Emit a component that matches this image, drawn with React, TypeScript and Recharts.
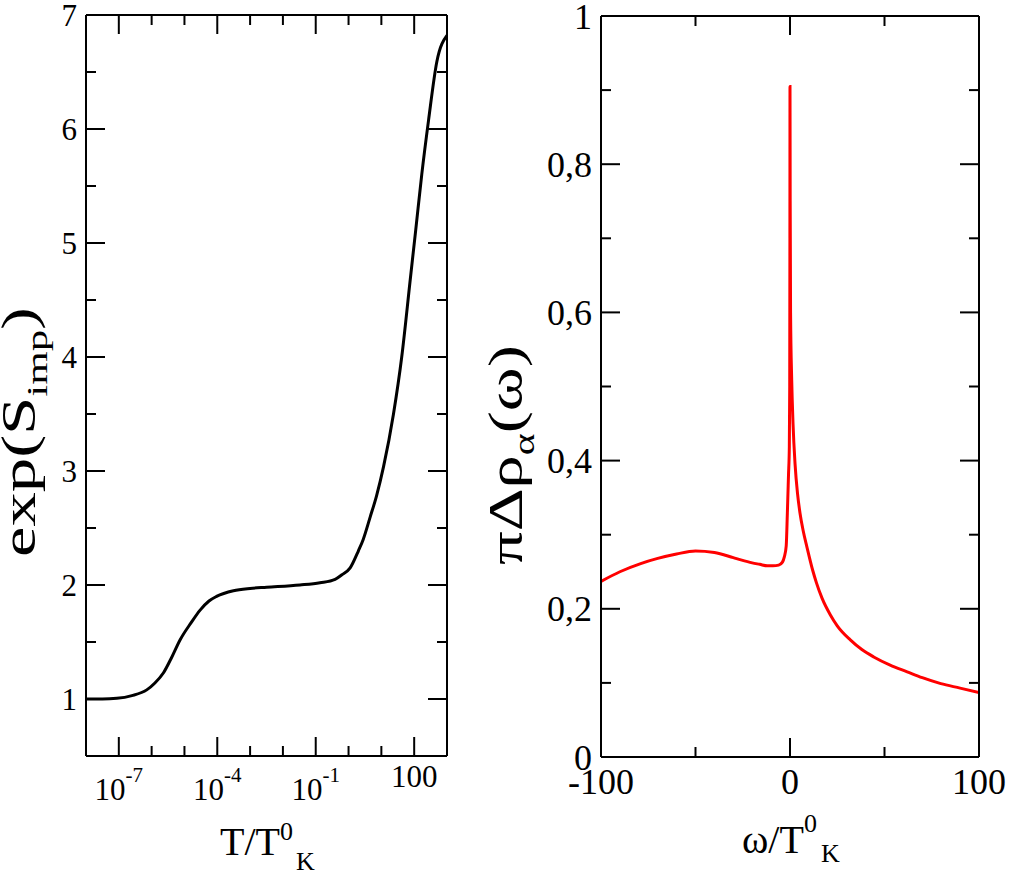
import React from "react"
import { LineChart, Line, XAxis, YAxis } from "recharts"

// left panel: exp(S_imp) vs T/T_K^0 (log axis)
const tValues = [
  1e-8, 3.16e-8, 8.7e-8, 2.5e-7, 7.1e-7, 1.26e-6, 2.3e-6, 4e-6, 7.4e-6, 1.6e-5,
  3e-5, 5.6e-5, 9.5e-5, 3.1e-4, 1e-3, 3.2e-3, 3.3e-2, 0.135, 0.39, 0.63,
  1.12, 2.0, 2.8, 4.6, 7.1, 11.7, 23.4, 41.7, 75.9, 112, 170, 275, 490, 1000,
]
const expS = [
  1.0, 1.0, 1.006, 1.03, 1.08, 1.14, 1.23, 1.36, 1.52, 1.67,
  1.78, 1.86, 1.9, 1.95, 1.97, 1.98, 2.0, 2.02, 2.05, 2.09,
  2.15, 2.3, 2.4, 2.6, 2.78, 3.04, 3.5, 4.0, 4.68, 5.12, 5.6, 6.08, 6.59, 6.82,
]

// right panel: pi Delta rho(omega)
const omega = [
  -100, -90, -79, -70, -60, -50, -40, -30, -26, -20, -16, -12, -9, -6, -4, -3, -2,
  -1.4, -0.8, -0.35, -0.15, -0.05, 0, 0.1, 0.3, 0.9, 1.6, 2.66, 4, 5.3, 7, 8.9,
  12, 14, 17, 21.3, 25, 31.9, 38, 44.3, 53, 62, 70, 79.8, 90, 100,
]
const rho = [
  0.237, 0.25, 0.261, 0.268, 0.274, 0.278, 0.276, 0.269, 0.266, 0.262, 0.26, 0.258, 0.258, 0.259, 0.263, 0.27, 0.285,
  0.329, 0.38, 0.419, 0.5, 0.7, 0.905, 0.75, 0.6, 0.509, 0.45, 0.396, 0.355, 0.329, 0.305, 0.284,
  0.252, 0.235, 0.214, 0.192, 0.177, 0.158, 0.145, 0.135, 0.124, 0.115, 0.107, 0.099, 0.093, 0.087,
]

// ticks
const leftXTicks = [1e-8, 1e-7, 1e-6, 1e-5, 1e-4, 1e-3, 1e-2, 1e-1, 1, 10, 100, 1000]
const leftXMajor = [1e-7, 1e-4, 1e-1, 100]
const leftXLabels = ["-7", "-4", "-1", "100"]
const leftYTicks = [0.5, 1, 1.5, 2, 2.5, 3, 3.5, 4, 4.5, 5, 5.5, 6, 6.5, 7]
const leftYMajor = [1, 2, 3, 4, 5, 6, 7]
const leftYLabels = ["1", "2", "3", "4", "5", "6", "7"]
const rightXTicks = [-100, -50, 0, 50, 100]
const rightXMajor = [-100, 0, 100]
const rightXLabels = ["-100", "0", "100"]
const rightYTicks = [0, 0.1, 0.2, 0.3, 0.4, 0.5, 0.6, 0.7, 0.8, 0.9, 1]
const rightYMajor = [0, 0.2, 0.4, 0.6, 0.8, 1]
const rightYLabels = ["0", "0,2", "0,4", "0,6", "0,8", "1"]

const leftData = tValues.map((t, i) => ({ T: t, S: expS[i] }))
const rightData = omega.map((w, i) => ({ w, r: rho[i] }))

const FONT = "'Liberation Serif', 'Times New Roman', serif"
const axisLine = { stroke: "#000", strokeWidth: 2 }
const MAJ = 19
const MIN = 10

const isIn = (arr: number[], v: number) =>
  arr.findIndex((a) => Math.abs(a - v) < 1e-9 * Math.max(1, Math.abs(a)))

function xTick(side: "bottom" | "top", majors: number[], labels: string[], log: boolean) {
  return (p: any) => {
    const { x, y, payload } = p
    const k = isIn(majors, payload.value)
    const len = k >= 0 ? MAJ : MIN
    const dir = side === "bottom" ? -1 : 1
    let label = null
    if (side === "bottom" && k >= 0) {
      const s = labels[k]
      if (log && s.startsWith("-")) {
        label = (
          <text x={x} y={y + 44} textAnchor="middle" fontFamily={FONT} fontSize={31} fill="#000">
            10<tspan dy={-18} fontSize={21}>{s}</tspan>
          </text>
        )
      } else {
        label = (
          <text x={x} y={y + (log ? 31 : 37)} textAnchor="middle" fontFamily={FONT} fontSize={log ? 31 : 36} fill="#000">
            {s}
          </text>
        )
      }
    }
    return (
      <g>
        <line x1={x} y1={y} x2={x} y2={y + dir * len} stroke="#000" strokeWidth={2} />
        {label}
      </g>
    )
  }
}

function yTick(side: "left" | "right", majors: number[], labels: string[], size: number) {
  return (p: any) => {
    const { x, y, payload } = p
    const k = isIn(majors, payload.value)
    const len = k >= 0 ? MAJ : MIN
    const dir = side === "left" ? 1 : -1
    return (
      <g>
        <line x1={x} y1={y} x2={x + dir * len} y2={y} stroke="#000" strokeWidth={2} />
        {side === "left" && k >= 0 && (
          <text x={x - 9} y={y} dy="0.35em" textAnchor="end" fontFamily={FONT} fontSize={size} fill="#000">
            {labels[k]}
          </text>
        )}
      </g>
    )
  }
}

const common = { interval: 0 as const, allowDataOverflow: true, tickSize: 0, tickMargin: 0, tickLine: false, axisLine }

export default function App() {
  return (
    <div style={{ position: "absolute", left: 0, top: 0, width: 1013, height: 873, background: "#fff" }}>
      <div style={{ position: "absolute", left: 0, top: 0 }}>
        <LineChart width={470} height={873} data={leftData} margin={{ top: 14, right: 22, bottom: 116, left: 85 }}>
          <XAxis xAxisId="b" dataKey="T" type="number" scale="log" domain={[1e-8, 1e3]} ticks={leftXTicks}
            height={1} {...common} tick={xTick("bottom", leftXMajor, leftXLabels, true)} />
          <XAxis xAxisId="t" dataKey="T" orientation="top" type="number" scale="log" domain={[1e-8, 1e3]} ticks={leftXTicks}
            height={1} {...common} tick={xTick("top", leftXMajor, leftXLabels, true)} />
          <YAxis yAxisId="l" type="number" domain={[0.5, 7]} ticks={leftYTicks} width={1} {...common}
            tick={yTick("left", leftYMajor, leftYLabels, 31)} />
          <YAxis yAxisId="r" orientation="right" type="number" domain={[0.5, 7]} ticks={leftYTicks} width={1} {...common}
            tick={yTick("right", leftYMajor, leftYLabels, 31)} />
          <Line xAxisId="b" yAxisId="l" dataKey="S" type="monotone" stroke="#000" strokeWidth={3} dot={false} isAnimationActive={false} />
        </LineChart>
      </div>
      <div style={{ position: "absolute", left: 500, top: 0 }}>
        <LineChart width={513} height={873} data={rightData} margin={{ top: 15, right: 33, bottom: 115, left: 100 }}>
          <XAxis xAxisId="b" dataKey="w" type="number" domain={[-100, 100]} ticks={rightXTicks}
            height={1} {...common} tick={xTick("bottom", rightXMajor, rightXLabels, false)} />
          <XAxis xAxisId="t" dataKey="w" orientation="top" type="number" domain={[-100, 100]} ticks={rightXTicks}
            height={1} {...common} tick={xTick("top", rightXMajor, rightXLabels, false)} />
          <YAxis yAxisId="l" type="number" domain={[0, 1]} ticks={rightYTicks} width={1} {...common}
            tick={yTick("left", rightYMajor, rightYLabels, 36)} />
          <YAxis yAxisId="r" orientation="right" type="number" domain={[0, 1]} ticks={rightYTicks} width={1} {...common}
            tick={yTick("right", rightYMajor, rightYLabels, 36)} />
          <Line xAxisId="b" yAxisId="l" dataKey="r" type="monotone" stroke="#ff0000" strokeWidth={3} dot={false} isAnimationActive={false} />
        </LineChart>
      </div>
      <svg width={1013} height={873} style={{ position: "absolute", left: 0, top: 0, pointerEvents: "none" }}>
        <g fontFamily={FONT} fill="#000">
          <text x={220} y={855} fontSize={40}>
            T/T<tspan dy={-15} fontSize={26}>0</tspan><tspan dx={3} dy={30} fontSize={26}>K</tspan>
          </text>
          <text x={742} y={853} fontSize={40}>
            ω/T<tspan dy={-21} fontSize={26}>0</tspan><tspan dx={4} dy={30} fontSize={26}>K</tspan>
          </text>
          <text x={35} y={557} fontSize={48} textLength={250} lengthAdjust="spacingAndGlyphs" transform="rotate(-90 35 557)">
            exp(S<tspan dy={12} fontSize={30}>imp</tspan><tspan dy={-12}>)</tspan>
          </text>
          <text x={522} y={565} fontSize={48} textLength={220} lengthAdjust="spacingAndGlyphs" transform="rotate(-90 522 565)">
            πΔρ<tspan dy={12} fontSize={30}>α</tspan><tspan dy={-12}>(ω)</tspan>
          </text>
        </g>
      </svg>
    </div>
  )
}
